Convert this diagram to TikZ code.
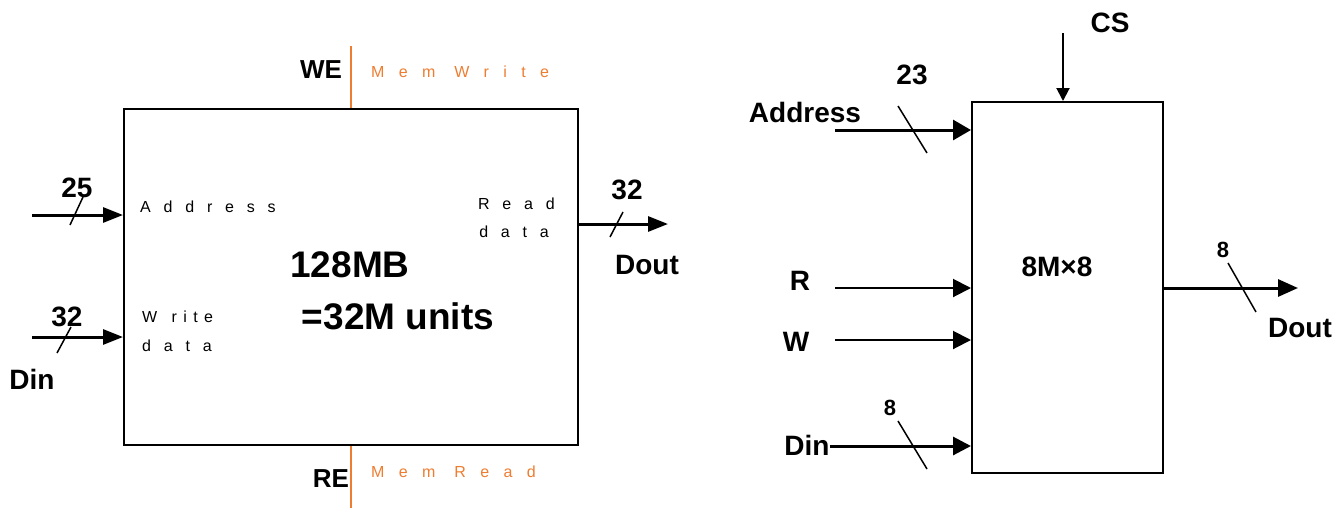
\documentclass[tikz,border=0pt]{standalone}
\usepackage{fontspec}
\setmainfont{Liberation Sans}
\newfontfamily\spacedfont[LetterSpace=80]{Liberation Sans}
\newfontfamily\ospacedfont[LetterSpace=90]{Liberation Sans}
\newfontfamily\tightfont[LetterSpace=40]{Liberation Sans}
\usetikzlibrary{arrows.meta}
\definecolor{memorange}{RGB}{237,125,49}
\tikzset{
  blk/.style={draw=black, line width=2pt, inner sep=0pt},
  lbl/.style={font=\fontsize{28}{30}\selectfont\bfseries, inner sep=0pt},
  lblsmall/.style={font=\fontsize{22}{24}\selectfont\bfseries, inner sep=0pt},
  big/.style={font=\fontsize{37}{40}\selectfont\bfseries, inner sep=0pt},
  sig/.style={font=\fontsize{16}{18}\spacedfont, inner sep=0pt},
  osig/.style={font=\fontsize{16}{18}\ospacedfont, text=memorange, inner sep=0pt},
  bus/.style={line width=3pt, -{Triangle[length=20pt,width=15pt]}},
  wire/.style={line width=2pt, -{Triangle[length=18pt,width=18pt]}},
  slash/.style={line width=1.5pt},
  ctl/.style={draw=memorange, line width=2pt},
}
\begin{document}
\begin{tikzpicture}[x=1pt,y=-1pt]
\useasboundingbox (0,0) rectangle (1344,512);
% ---------- left memory ----------
\node[blk, minimum width=454pt, minimum height=336pt] (mem) at (351,277) {};
\node[big] (t1) at (350,265) {128MB};
\node[big] (t2) at (398,316) {=32M units};
% inputs
\coordinate (ain) at (32,215);
\coordinate (win) at (32,337);
\draw[bus] (ain) -- (mem.west |- ain);
\draw[bus] (win) -- (mem.west |- win);
\coordinate (s1a) at (70,225); \coordinate (s1b) at (83,197);
\draw[slash] (s1a) -- (s1b);
\coordinate (s2a) at (57,353); \coordinate (s2b) at (71,327);
\draw[slash] (s2a) -- (s2b);
\node[lbl] (n25) at (77,188) {25};
\node[lbl] (n32a) at (67,317) {32};
\node[lbl] (din1) at (32,379) {Din};
\node[sig, anchor=base west] (addr) at (140,212) {Address};
\node[sig, anchor=base west] (wr1) at (142,322) {W\hspace{0.9em}{\tightfont rite}};
\node[sig, anchor=base west] (wr2) at (142,351) {data};
\node[sig, anchor=base east] (rd1) at (555,209) {Read};
\node[sig, anchor=base east] (rd2) at (549,237) {data};
% output
\coordinate (dout1) at (668,224);
\draw[bus] (mem.east |- dout1) -- (dout1);
\coordinate (s3a) at (610,237); \coordinate (s3b) at (623,212);
\draw[slash] (s3a) -- (s3b);
\node[lbl] (n32b) at (627,190) {32};
\node[lbl] (doutl) at (647,265) {Dout};
% control lines
\coordinate (we) at (351,46);
\coordinate (re) at (351,508);
\draw[ctl] (we) -- (mem.north -| we);
\draw[ctl] (mem.south -| re) -- (re);
\node[lbl, font=\fontsize{26}{28}\selectfont\bfseries] (WE) at (321,70) {WE};
\node[lbl, font=\fontsize{26}{28}\selectfont\bfseries] (RE) at (331,479) {RE};
\node[osig, anchor=base west] (mw) at (371,77) {Mem Write};
\node[osig, anchor=base west] (mr) at (371,477) {Mem Read};
% ---------- right chip ----------
\node[blk, minimum width=191pt, minimum height=371pt] (chip) at (1067.5,287.5) {};
\node[lbl] (cap) at (1057,267) {8M×8};
\coordinate (cs) at (1063,33);
\draw[line width=2pt, -{Triangle[length=13pt,width=13pt]}] (cs) -- (chip.north -| cs);
\node[lbl] (CS) at (1110,23) {CS};
\coordinate (ra) at (835,130);
\draw[bus, -{Triangle[length=18pt,width=20pt]}] (ra) -- (chip.west |- ra);
\coordinate (s4a) at (898,106); \coordinate (s4b) at (927,153);
\draw[slash] (s4a) -- (s4b);
\node[lbl] (n23) at (912,75) {23};
\node[lbl] (addrR) at (805,112) {Address};
\coordinate (rr) at (835,288);
\draw[wire] (rr) -- (chip.west |- rr);
\node[lbl] (R) at (800,281) {R};
\coordinate (ww) at (835,340);
\draw[wire] (ww) -- (chip.west |- ww);
\node[lbl] (W) at (796,342) {W};
\node[lbl] (dinR) at (807,445) {Din};
\coordinate (dd) at (dinR.east |- 0,446);
\draw[bus, -{Triangle[length=18pt,width=18pt]}] (dd) -- (chip.west |- dd);
\coordinate (s5a) at (898,421); \coordinate (s5b) at (927,469);
\draw[slash] (s5a) -- (s5b);
\node[lblsmall] (n8a) at (890,408) {8};
\coordinate (dout2) at (1298,288);
\draw[bus, -{Triangle[length=20pt,width=17pt]}] (chip.east |- dout2) -- (dout2);
\coordinate (s6a) at (1228,263); \coordinate (s6b) at (1256,312);
\draw[slash] (s6a) -- (s6b);
\node[lblsmall] (n8b) at (1223,250) {8};
\node[lbl] (doutR) at (1300,328) {Dout};
\end{tikzpicture}
\end{document}
